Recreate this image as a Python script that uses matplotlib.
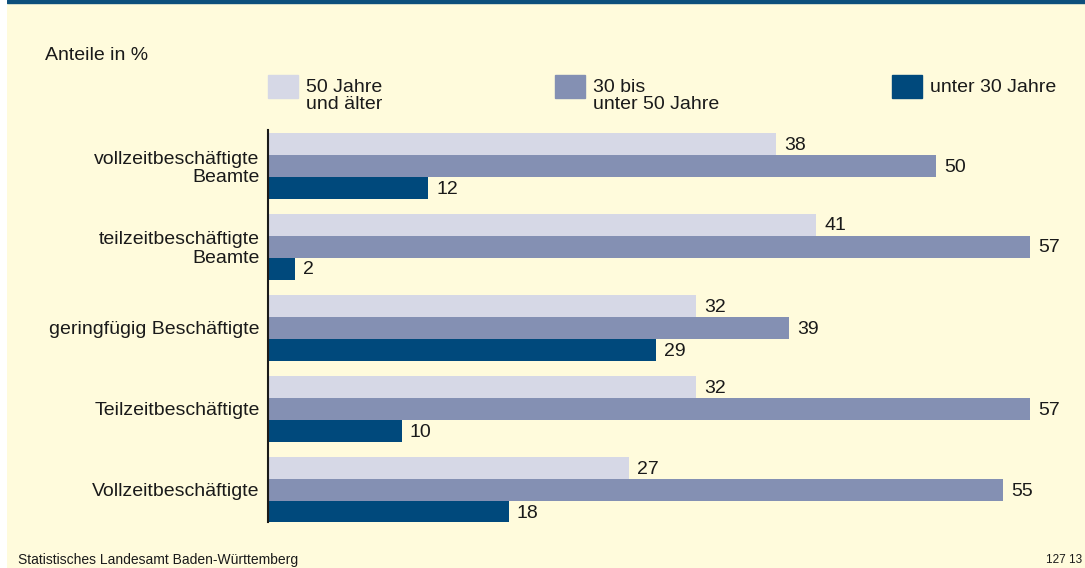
import matplotlib
matplotlib.use('Agg')
import matplotlib.pyplot as plt
import numpy as np

plt.rcParams['font.family'] = ['Liberation Sans', 'DejaVu Sans']

# Daten
kategorien = ['vollzeitbeschäftigte\nBeamte', 'teilzeitbeschäftigte\nBeamte',
              'geringfügig Beschäftigte', 'Teilzeitbeschäftigte',
              'Vollzeitbeschäftigte']
ab_50 = [38, 41, 32, 32, 27]
von_30_bis_50 = [50, 57, 39, 57, 55]
unter_30 = [12, 2, 29, 10, 18]
serien_namen = ['50 Jahre\nund älter', '30 bis\nunter 50 Jahre', 'unter 30 Jahre']

farben = ['#d6d8e6', '#8490b3', '#00497c']
bg = '#fffbdc'
txt = '#1a1a1a'
W, H = 1085, 568
fs = 14

fig = plt.figure(figsize=(W / 100, H / 100), dpi=100)
fig.patch.set_facecolor('white')

# Hintergrundflaeche und Linie oben
bgax = fig.add_axes([7 / W, 0, 1 - 7 / W, 1])
bgax.set_xlim(0, 1)
bgax.set_ylim(0, 1)
bgax.axis('off')
bgax.add_patch(plt.Rectangle((0, 0), 1, 1, color=bg, zorder=0))
bgax.add_patch(plt.Rectangle((0, 1 - 3 / H), 1, 3 / H, color='#0d4f7c', zorder=1))

# Balkendiagramm
ax_left, ax_top, ax_bot = 268, 130, 522
px_per_unit = 762 / 57
xmax = 60
ax = fig.add_axes([ax_left / W, 1 - ax_bot / H,
                   xmax * px_per_unit / W, (ax_bot - ax_top) / H])
ax.set_facecolor('none')

grp = 81.0
y = np.arange(len(kategorien))
ax.set_ylim(4 + 32.5 / grp, -35.5 / grp)
ax.set_xlim(0, xmax)
h = 22 / grp

for off, vals, col in zip([-h, 0, h], [ab_50, von_30_bis_50, unter_30], farben):
    ax.barh(y + off, vals, height=h, color=col, linewidth=0)
    for yi, v in zip(y, vals):
        ax.text(v + 0.6, yi + off + 1.5 / grp, str(v), va='center', ha='left',
                fontsize=fs, color=txt)

ax.set_yticks(y)
ax.set_yticklabels(kategorien, fontsize=fs, color=txt, linespacing=1.1)
ax.tick_params(axis='y', length=0, pad=6)
ax.set_xticks([])
for s in ['top', 'right', 'bottom']:
    ax.spines[s].set_visible(False)
ax.spines['left'].set_linewidth(1.5)
ax.spines['left'].set_color(txt)

# Legende
leg_x = [268, 555, 892]
for lx, name, col in zip(leg_x, serien_namen, farben):
    fig.patches.append(plt.Rectangle((lx / W, 1 - 98 / H), 30 / W, 23 / H,
                                     transform=fig.transFigure, color=col))
    fig.text((lx + 38) / W, 1 - 79 / H, name, ha='left', va='top',
             fontsize=fs, color=txt, linespacing=0.98)

fig.text(45 / W, 1 - 55 / H, 'Anteile in %', ha='left', va='center',
         fontsize=fs, color=txt)

fig.text(18 / W, 1 - 560 / H, 'Statistisches Landesamt Baden-Württemberg',
         ha='left', va='center', fontsize=10, color=txt)
fig.text(1082 / W, 1 - 560 / H, '127 13', ha='right', va='center',
         fontsize=8.5, color=txt)

plt.savefig('out.png', dpi=100, facecolor=fig.get_facecolor())
